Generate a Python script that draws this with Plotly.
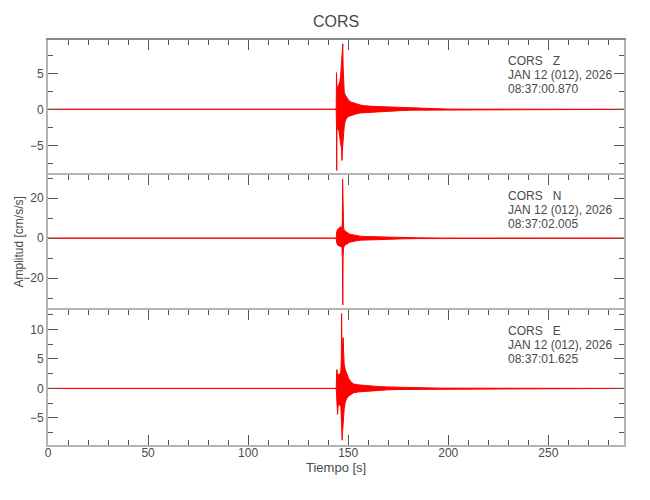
import plotly.graph_objects as go

# ---------------- data ----------------
X_MAX = 287.8

# Vertical component (Z): envelope of the acceleration trace
T_Z = [0, 144.0, 144.15, 144.25, 144.35, 144.5, 144.8, 145.3, 145.8, 146.2, 146.7,
       146.9, 147.05, 147.2, 147.3, 147.45, 147.7, 148.0, 148.5, 149.3, 150.0, 151.0,
       152.0, 153.0, 154.3, 156.0, 158.0, 159.3, 162.0, 165.0, 167.7, 171.0, 176.0,
       181.0, 186.0, 192.0, 200.0, 288.0]
UP_Z = [0, 0, 5.1, 3.2, 3.0, 3.1, 3.1, 3.4, 3.8, 4.6, 6.4,
        6.8, 7.5, 8.5, 9.1, 6.0, 3.8, 2.4, 2.0, 1.6, 1.35, 1.05,
        0.95, 0.85, 0.7, 0.6, 0.5, 0.45, 0.42, 0.38, 0.35, 0.3, 0.2,
        0.15, 0.1, 0.06, 0.03, 0]
LO_Z = [0, 0, -2.5, -8.5, -3.0, -2.6, -2.8, -2.9, -4.0, -4.7, -5.5,
        -7.1, -5.8, -5.3, -5.0, -4.2, -3.2, -2.4, -1.6, -1.2, -1.0, -0.9,
        -0.8, -0.7, -0.6, -0.5, -0.45, -0.4, -0.38, -0.34, -0.3, -0.25, -0.18,
        -0.12, -0.08, -0.05, -0.03, 0]

# North component (N)
T_N = [0, 144.0, 144.3, 144.8, 145.5, 146.3, 146.9, 147.1, 147.2, 147.3, 147.45,
       147.7, 148.0, 148.6, 149.3, 150.7, 152.5, 154.0, 156.0, 158.0, 161.0,
       164.7, 169.0, 173.0, 178.0, 185.0, 195.0, 288.0]
UP_N = [0, 0, 3.3, 4.5, 5.0, 5.8, 5.0, 9.0, 29.5, 14.0, 8.0,
        5.0, 4.0, 3.3, 3.0, 2.0, 1.6, 1.3, 1.0, 0.85, 0.75,
        0.7, 0.5, 0.4, 0.3, 0.2, 0.08, 0]
LO_N = [0, 0, -2.4, -3.5, -4.0, -4.2, -4.5, -10.0, -22.0, -33.4, -9.0,
        -5.0, -4.0, -3.3, -3.0, -2.0, -1.6, -1.3, -1.0, -0.85, -0.75,
        -0.7, -0.5, -0.4, -0.3, -0.2, -0.08, 0]

# East component (E)
T_E = [0, 144.0, 144.3, 144.5, 144.7, 145.0, 145.6, 146.3, 146.55, 146.7, 146.85,
       147.0, 147.15, 147.3, 147.5, 147.7, 148.0, 148.5, 149.3, 150.2, 151.0,
       152.7, 155.0, 157.7, 161.0, 165.0, 169.3, 175.0, 181.0, 186.0, 195.0, 288.0]
UP_E = [0, 0, 3.2, 2.4, 2.2, 2.3, 2.5, 2.6, 5.0, 12.7, 7.5,
        7.0, 7.4, 8.0, 8.6, 6.0, 4.0, 3.2, 2.3, 1.7, 1.25,
        0.75, 0.6, 0.5, 0.4, 0.32, 0.25, 0.18, 0.12, 0.1, 0.05, 0]
LO_E = [0, 0, -3.0, -2.8, -4.4, -2.8, -2.8, -3.0, -4.5, -6.0, -7.5,
        -8.8, -7.5, -6.8, -5.5, -4.5, -3.4, -2.4, -1.65, -1.3, -1.1,
        -0.75, -0.6, -0.5, -0.4, -0.32, -0.25, -0.18, -0.12, -0.1, -0.05, 0]

STATION = "CORS"
COMPONENTS = ["Z", "N", "E"]
DATE_LABEL = "JAN 12 (012), 2026"
START_TIMES = ["08:37:00.870", "08:37:02.005", "08:37:01.625"]
Y_RANGES = [[-9.12, 9.63], [-35.9, 31.6], [-9.6, 13.3]]
Y_DTICK = [5, 20, 5]
Y_MINOR = [2.5, 10, 2.5]
X_DTICK = 50
X_MINOR = 10
X_TITLE = "Tiempo [s]"
Y_TITLE = "Amplitud [cm/s/s]"

# ---------------- figure ----------------
FONT = "Liberation Sans, Arial, sans-serif"
TXT = "#4a4a4a"
LINE = "#b4b4b4"
TICK = "#555555"
RED = "#ff0000"

# the page body has an 8 px margin: size the figure so it fits the window
W, H = 642, 492
L, R, T, B = 40, 26, 32, 55
PW, PH = W - L - R, H - T - B
OFF = 8  # page offset of the figure


def px_x(xp):  # page pixel -> paper x
    return (xp - OFF - L) / PW


def px_y(yp):  # page pixel -> paper y
    return 1 - (yp - OFF - T) / PH


series = [(T_Z, UP_Z, LO_Z), (T_N, UP_N, LO_N), (T_E, UP_E, LO_E)]
# top panel -> axes 3, middle -> 2, bottom -> 1
axis_ids = ["3", "2", ""]

fig = go.Figure()
for (t, up, lo), aid in zip(series, axis_ids):
    xs = list(t) + list(reversed(t))
    ys = list(up) + list(reversed(lo))
    fig.add_trace(go.Scatter(
        x=xs, y=ys, mode="lines", fill="toself",
        fillcolor=RED, line=dict(color=RED, width=1),
        xaxis="x" + aid, yaxis="y" + aid, hoverinfo="skip", showlegend=False))

common_x = dict(range=[0, X_MAX], dtick=X_DTICK, tick0=0, ticks="inside", ticklen=10,
                tickcolor=TICK, tickwidth=1, showline=True, linecolor=LINE, linewidth=2,
                showgrid=False, zeroline=False,
                minor=dict(dtick=X_MINOR, ticks="inside", ticklen=5, tickcolor=TICK,
                           tickwidth=1, showgrid=False),
                tickfont=dict(family=FONT, size=12, color=TXT))

layout = dict(
    width=W, height=H,
    paper_bgcolor="white", plot_bgcolor="white",
    margin=dict(l=L, r=R, t=T, b=B),
    showlegend=False,
    xaxis=dict(common_x, anchor="y", side="bottom", mirror="ticks",
               ticklabelstandoff=-4),
    xaxis2=dict(common_x, anchor="y2", side="top", mirror=False,
                showticklabels=False, matches="x"),
    xaxis3=dict(common_x, anchor="y3", side="top", mirror=False,
                showticklabels=False, matches="x", linecolor="#8a8a8a"),
)

domains = {"3": [2 / 3, 1], "2": [1 / 3, 2 / 3], "": [0, 1 / 3]}
for i, aid in enumerate(axis_ids):
    layout["yaxis" + aid] = dict(
        domain=domains[aid], anchor="x" + aid, range=Y_RANGES[i], dtick=Y_DTICK[i], tick0=0,
        ticks="inside", ticklen=10, tickcolor=TICK, tickwidth=1, mirror="ticks",
        showline=True, linecolor=LINE, linewidth=2, showgrid=False, zeroline=False,
        ticklabelstandoff=0,
        minor=dict(dtick=Y_MINOR[i], ticks="inside", ticklen=5, tickcolor=TICK,
                   tickwidth=1, showgrid=False),
        tickfont=dict(family=FONT, size=12, color=TXT))

fig.update_layout(**layout)

# per-panel labels (page pixel rows of the first line in each panel)
first_rows = [61, 196, 331]
for i in range(3):
    lines = [STATION + "\u00a0\u00a0\u00a0" + COMPONENTS[i], DATE_LABEL, START_TIMES[i]]
    for j, txt in enumerate(lines):
        fig.add_annotation(
            text=txt, xref="paper", yref="paper",
            x=px_x(506), y=px_y(first_rows[i] + 14 * j),
            xanchor="left", yanchor="middle", showarrow=False,
            font=dict(family=FONT, size=12, color=TXT))

# title and axis titles
fig.add_annotation(text=STATION, xref="paper", yref="paper",
                   x=0.5, y=px_y(22), xanchor="center", yanchor="middle",
                   showarrow=False, font=dict(family=FONT, size=16, color=TXT))
fig.add_annotation(text=X_TITLE, xref="paper", yref="paper",
                   x=0.5, y=px_y(467), xanchor="center", yanchor="middle",
                   showarrow=False, font=dict(family=FONT, size=13, color=TXT))
fig.add_annotation(text=Y_TITLE, xref="paper", yref="paper",
                   x=px_x(18), y=0.5, xanchor="center", yanchor="middle",
                   textangle=-90, showarrow=False, font=dict(family=FONT, size=12, color=TXT))

fig.write_html("out.html")
